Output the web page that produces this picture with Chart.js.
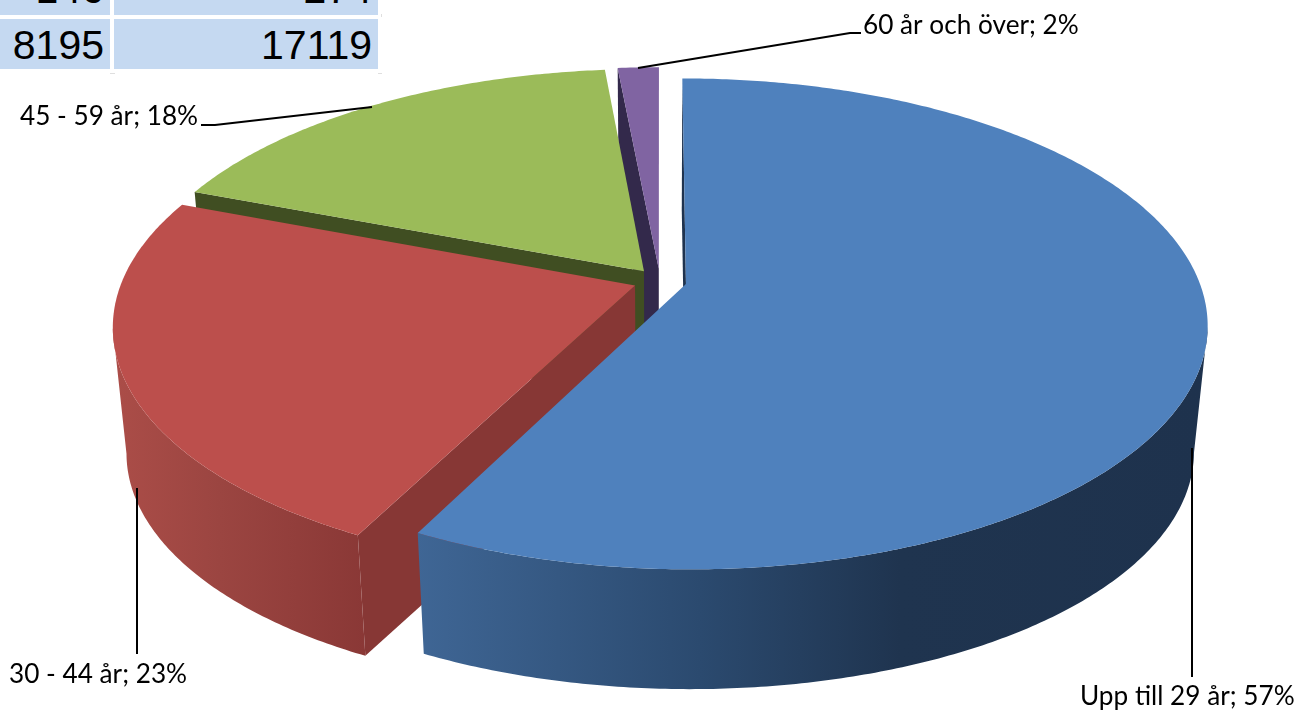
<!DOCTYPE html>
<html lang="sv">
<head>
<meta charset="utf-8">
<title>Åldersfördelning</title>
<script src="https://cdn.jsdelivr.net/npm/chart.js@4/dist/chart.umd.min.js"></script>
<style>
  html, body { margin: 0; padding: 0; background: #fff; overflow: hidden; }
  #wrap { position: relative; width: 1302px; height: 711px; }
  #diagram { position: absolute; left: 0; top: 0; }
  .cell {
    position: absolute; background: #c5d9f1; color: #000; overflow: hidden;
    font: 41px "Liberation Sans", Arial, sans-serif; text-align: right;
    box-sizing: border-box;
  }
  .hak { position: absolute; background: #dfdfdf; }
</style>
</head>
<body>
<div id="wrap">
  <canvas id="diagram" width="1302" height="711"></canvas>
</div>
<script>
const kategorier = ["Upp till 29 år", "30 - 44 år", "45 - 59 år", "60 år och över"];
const andelar = [57.49, 23.31, 17.7, 1.5];
const tabellRad1 = ["146", "274"];
const tabellRad2 = ["8195", "17119"];

const fargerTopp = ["#4f81bd", "#bc4f4c", "#9bbb59", "#8064a2"];
const fargerKant = ["#1f334f", "#873735", "#404e22", "#33294b"];
// gradient on the outer wall, left to right on screen
const fargerVagg = [
  [[416, "#3f6695"], [700, "#2b4a6f"], [900, "#1f344f"], [1207, "#1e324d"]],
  [[115, "#ab4d48"], [220, "#9b4541"], [365, "#8a3836"]],
  [[0, "#404e22"], [1302, "#404e22"]],
  [[0, "#33294b"], [1302, "#33294b"]],
];

// label text position and leader line, in the same order as kategorier
const etiketter = [
  { x: 1080, y: 705, linje: [[1192, 448], [1192, 677]] },
  { x: 9, y: 683, linje: [[137, 488], [137, 654]] },
  { x: 20, y: 125, linje: [[372, 107], [215, 125], [201, 125]] },
  { x: 863, y: 34, linje: [[638, 68], [850, 33], [861, 33]] },
];

// camera used to tilt the flat pie
const vy = { x0: 660, y0: 281, a: 513, b: 238, d: 6.15, hojd: 127, krymp: 0.975 };

function projicera(u, v, nere) {
  const s = vy.d / (vy.d - v);
  const k = nere ? vy.krymp : 1;
  return [vy.x0 + vy.a * u * s * k, vy.y0 + (nere ? vy.hojd : 0) + vy.b * v * s * k];
}

function ritaYta(ctx, punkter, farg) {
  ctx.beginPath();
  punkter.forEach((p, i) => (i ? ctx.lineTo(p[0], p[1]) : ctx.moveTo(p[0], p[1])));
  ctx.closePath();
  ctx.fillStyle = farg;
  ctx.fill();
}

function syns(pu, pv, nu, nv) {
  return (0 - pu) * nu + (vy.d - pv) * nv > 0;
}

function ritaTarta(ctx, arc, index) {
  const { x, y, startAngle, endAngle, outerRadius } = arc.getProps(
    ["x", "y", "startAngle", "endAngle", "outerRadius"],
    true,
  );
  const mitt = (startAngle + endAngle) / 2;
  const forskj = arc.options.offset / outerRadius;
  const cu = Math.cos(mitt) * forskj + (x - arc.$context.chart.width / 2) / outerRadius;
  const cv = Math.sin(mitt) * forskj + (y - arc.$context.chart.height / 2) / outerRadius;
  const steg = Math.max(4, Math.ceil((endAngle - startAngle) / 0.01));

  const grad = ctx.createLinearGradient(0, 0, 1302, 0);
  fargerVagg[index].forEach((s) => grad.addColorStop(s[0] / 1302, s[1]));

  const kantPunkt = (a) => [cu + Math.cos(a), cv + Math.sin(a)];
  const radialVagg = (a, nu, nv) => {
    const p = kantPunkt(a);
    if (!syns(cu, cv, nu, nv)) return;
    ritaYta(ctx, [projicera(cu, cv), projicera(p[0], p[1]), projicera(p[0], p[1], true), projicera(cu, cv, true)], fargerKant[index]);
  };
  // side walls of the cut, outward normal is away from the slice
  radialVagg(startAngle, Math.sin(startAngle), -Math.cos(startAngle));
  radialVagg(endAngle, -Math.sin(endAngle), Math.cos(endAngle));

  // outer wall, only the part that faces the camera
  const overkant = [];
  const underkant = [];
  for (let i = 0; i <= steg; i++) {
    const a = startAngle + ((endAngle - startAngle) * i) / steg;
    const p = kantPunkt(a);
    if (!syns(p[0], p[1], Math.cos(a), Math.sin(a))) continue;
    overkant.push(projicera(p[0], p[1]));
    underkant.unshift(projicera(p[0], p[1], true));
  }
  if (overkant.length > 1) ritaYta(ctx, overkant.concat(underkant), grad);

  const topp = [projicera(cu, cv)];
  for (let i = 0; i <= steg; i++) {
    const p = kantPunkt(startAngle + ((endAngle - startAngle) * i) / steg);
    topp.push(projicera(p[0], p[1]));
  }
  ritaYta(ctx, topp, arc.options.backgroundColor);
}

const tartaPlugin = {
  id: "tarta3d",
  beforeDatasetsDraw(chart) {
    const ctx = chart.ctx;
    ctx.save();
    // back slices first, the first slice sits in front of the others
    const bagar = chart.getDatasetMeta(0).data;
    for (let i = bagar.length - 1; i >= 0; i--) ritaTarta(ctx, bagar[i], i);
    ctx.restore();
    return false;
  },
  afterDraw(chart) {
    const ctx = chart.ctx;
    ctx.save();
    ctx.strokeStyle = "#000";
    ctx.lineWidth = 2;
    ctx.fillStyle = "#000";
    ctx.font = '26.2px Lato, "Noto Sans", sans-serif';
    ctx.textBaseline = "alphabetic";
    etiketter.forEach((e, i) => {
      ctx.beginPath();
      e.linje.forEach((p, j) => (j ? ctx.lineTo(p[0], p[1]) : ctx.moveTo(p[0], p[1])));
      ctx.stroke();
      ctx.fillText(kategorier[i] + "; " + Math.round(andelar[i]) + "%", e.x, e.y);
    });
    ctx.restore();
  },
};

new Chart(document.getElementById("diagram"), {
  type: "pie",
  data: {
    labels: kategorier,
    datasets: [{ data: andelar, backgroundColor: fargerTopp, borderWidth: 0, offset: 18 }],
  },
  options: {
    responsive: false,
    animation: false,
    plugins: { legend: { display: false }, tooltip: { enabled: false } },
  },
  plugins: [tartaPlugin],
});

// the cut-off table in the upper left corner
const wrap = document.getElementById("wrap");
function tabellCell(text, left, width, top, height, textTop, hoger) {
  const d = document.createElement("div");
  d.className = "cell";
  d.style.cssText = `left:${left}px;width:${width}px;top:${top}px;height:${height}px;line-height:41px;padding-right:${hoger}px;`;
  const s = document.createElement("div");
  s.textContent = text;
  s.style.marginTop = textTop + "px";
  d.appendChild(s);
  wrap.appendChild(d);
}
tabellCell(tabellRad1[0], 0, 110, 0, 15, -31, 6);
tabellCell(tabellRad1[1], 114, 264, 0, 15, -31, 6);
tabellCell(tabellRad2[0], 0, 110, 19, 50, 6, 6);
tabellCell(tabellRad2[1], 114, 264, 19, 50, 6, 6);

// small selection marks at the table corners
[[110, 73, 5, 1], [378, 73, 4, 1], [381, 14, 1, 3]].forEach((h) => {
  const d = document.createElement("div");
  d.className = "hak";
  d.style.cssText = `left:${h[0]}px;top:${h[1]}px;width:${h[2]}px;height:${h[3]}px;`;
  wrap.appendChild(d);
});
</script>
</body>
</html>
